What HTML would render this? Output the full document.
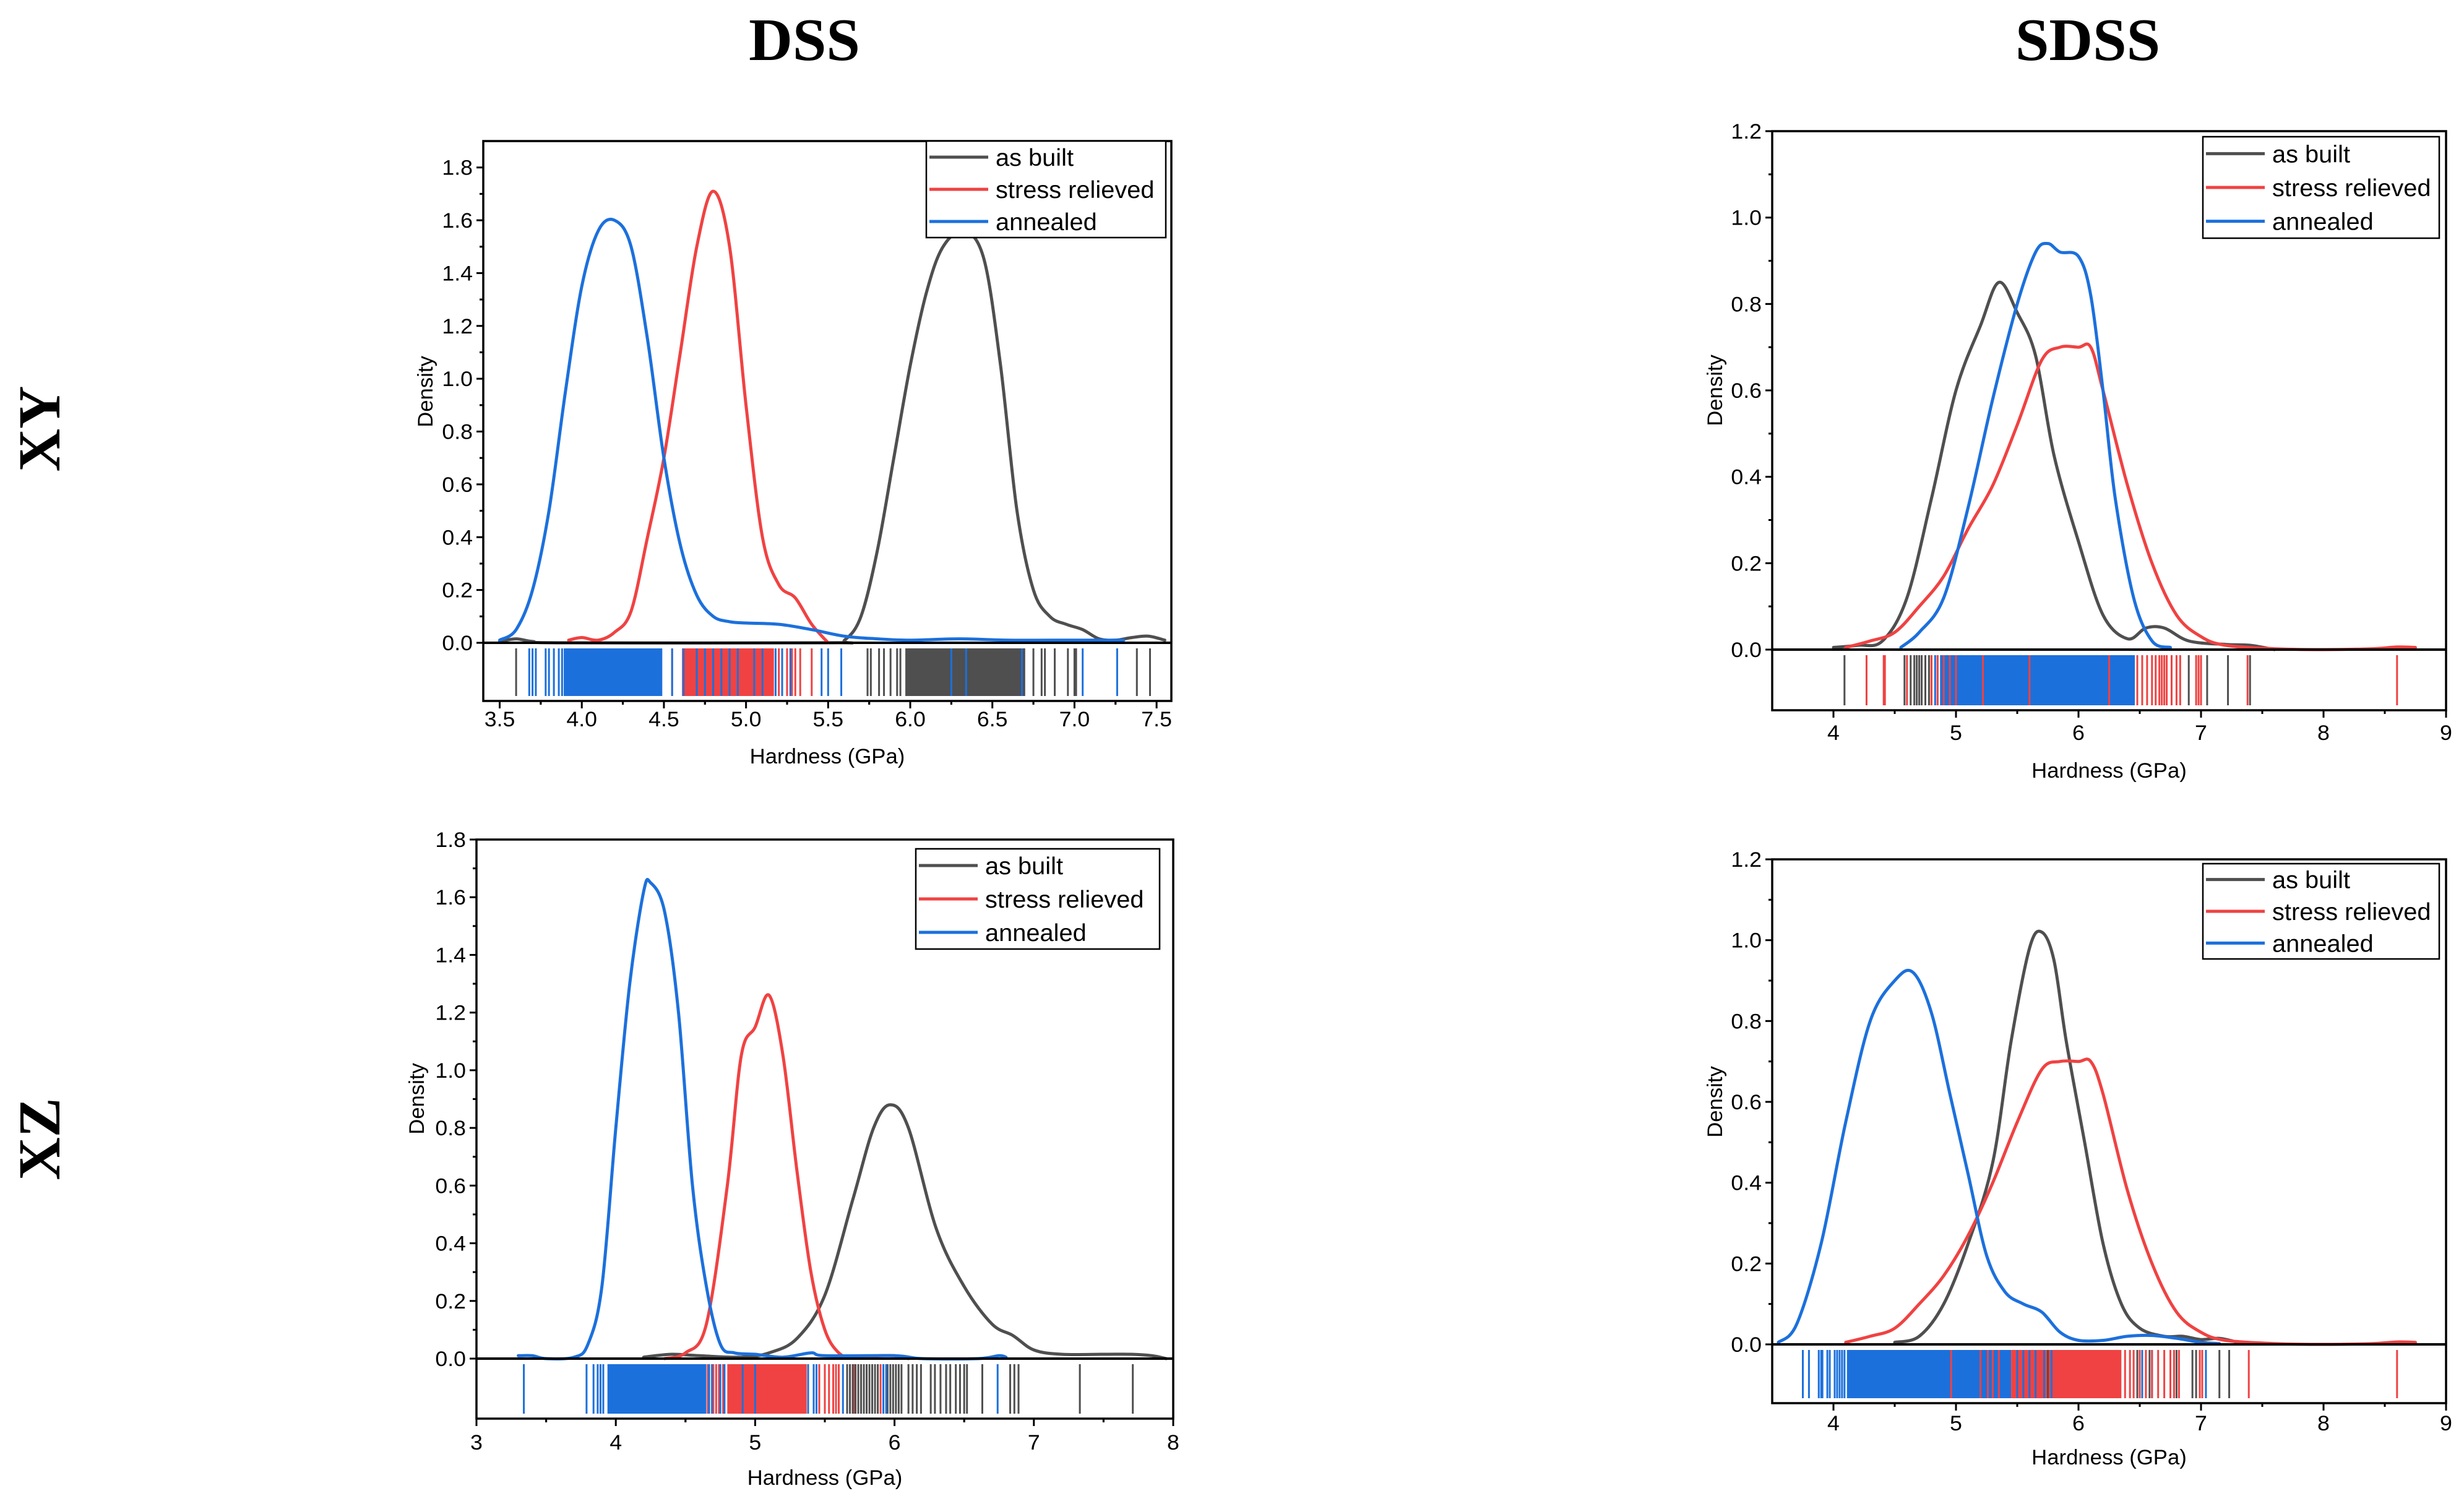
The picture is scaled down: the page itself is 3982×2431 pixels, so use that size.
<!DOCTYPE html>
<html><head><meta charset="utf-8">
<style>
html,body{margin:0;padding:0;background:#fff;}
svg{display:block;}
</style></head>
<body>
<svg id="fig" xmlns="http://www.w3.org/2000/svg" width="3982" height="2431" viewBox="0 0 3982 2431">
<rect x="0" y="0" width="3982" height="2431" fill="#fff"/>
<text x="1300" y="97" text-anchor="middle" font-family="Liberation Serif, serif" font-weight="bold" font-size="98">DSS</text>
<text x="3374" y="97" text-anchor="middle" font-family="Liberation Serif, serif" font-weight="bold" font-size="98">SDSS</text>
<text transform="translate(96,693) rotate(-90)" text-anchor="middle" font-family="Liberation Serif, serif" font-weight="bold" font-size="96">XY</text>
<text transform="translate(96,1841) rotate(-90)" text-anchor="middle" font-family="Liberation Serif, serif" font-weight="bold" font-size="96">XZ</text>
</svg>
<script>
// ===== Panel 1: DSS XY =====
const p1_built_x = [3.5,3.6,3.7,3.9,5.5,5.6,5.7,5.8,5.9,6.0,6.1,6.2,6.33,6.45,6.55,6.65,6.75,6.85,6.95,7.05,7.15,7.25,7.35,7.45,7.55];
const p1_built_y = [0.005,0.015,0.005,0,0,0.01,0.1,0.35,0.7,1.05,1.33,1.5,1.56,1.45,1.05,0.5,0.2,0.1,0.07,0.05,0.015,0.01,0.02,0.025,0.01];
const p1_stress_x = [3.92,4.0,4.1,4.2,4.3,4.4,4.5,4.6,4.7,4.8,4.9,5.0,5.1,5.2,5.3,5.4,5.5];
const p1_stress_y = [0.01,0.02,0.01,0.04,0.12,0.4,0.7,1.1,1.5,1.71,1.5,0.9,0.4,0.22,0.17,0.07,0.0];
const p1_ann_x = [3.5,3.6,3.7,3.8,3.9,4.0,4.1,4.2,4.3,4.4,4.5,4.6,4.7,4.8,4.9,5.0,5.2,5.4,5.6,5.8,6.0,6.3,6.6,7.0,7.3];
const p1_ann_y = [0.01,0.05,0.2,0.5,0.95,1.35,1.56,1.6,1.5,1.15,0.7,0.37,0.18,0.1,0.08,0.075,0.07,0.05,0.025,0.015,0.01,0.015,0.01,0.01,0.01];
const p1_rug_built_bands = [[5.97,6.70]];
const p1_rug_built_single = [3.60,5.74,5.76,5.81,5.84,5.88,5.92,5.94,6.75,6.80,6.82,6.88,6.96,7.00,7.01,7.38,7.46];
const p1_rug_stress_bands = [[4.61,5.17]];
const p1_rug_stress_single = [4.55,5.20,5.22,5.25,5.28,5.30,5.33,5.40];
const p1_rug_ann_bands = [[3.89,4.49]];
const p1_rug_ann_single = [3.68,3.70,3.72,3.78,3.80,3.83,3.86,3.88,4.55,4.62,4.70,4.75,4.80,4.85,4.90,4.95,5.05,5.10,5.18,5.22,5.27,5.46,5.50,5.58,6.25,6.34,6.68,7.05,7.26];
const p1_xticks = [3.5,4.0,4.5,5.0,5.5,6.0,6.5,7.0,7.5];
const p1_xlabels = ["3.5","4.0","4.5","5.0","5.5","6.0","6.5","7.0","7.5"];
const p1_yticks = [0,0.2,0.4,0.6,0.8,1.0,1.2,1.4,1.6,1.8];
const p1_ylabels = ["0.0","0.2","0.4","0.6","0.8","1.0","1.2","1.4","1.6","1.8"];

// ===== Panel 2: SDSS XY =====
const p2_built_x = [4.0,4.2,4.4,4.6,4.8,5.0,5.2,5.35,5.5,5.65,5.8,6.0,6.2,6.4,6.55,6.7,6.9,7.2,7.4,7.6];
const p2_built_y = [0.005,0.01,0.02,0.12,0.35,0.6,0.75,0.85,0.78,0.68,0.45,0.25,0.08,0.025,0.05,0.05,0.02,0.012,0.01,0.0];
const p2_stress_x = [4.1,4.3,4.5,4.7,4.9,5.1,5.3,5.5,5.7,5.85,6.0,6.1,6.2,6.4,6.6,6.8,7.0,7.2,7.6,8.0,8.4,8.6,8.75];
const p2_stress_y = [0.005,0.02,0.04,0.1,0.17,0.28,0.38,0.52,0.67,0.70,0.70,0.70,0.6,0.38,0.2,0.08,0.03,0.01,0.002,0,0.002,0.006,0.005];
const p2_ann_x = [4.55,4.7,4.9,5.1,5.3,5.5,5.65,5.75,5.85,6.0,6.1,6.2,6.3,6.45,6.6,6.75];
const p2_ann_y = [0.005,0.04,0.12,0.33,0.58,0.8,0.92,0.94,0.92,0.91,0.82,0.6,0.35,0.12,0.02,0.005];
const p2_rug_built_bands = [];
const p2_rug_built_single = [4.09,4.58,4.63,4.66,4.68,4.70,4.72,4.75,4.78,4.80,6.90,7.05,7.22,7.40];
const p2_rug_stress_bands = [];
const p2_rug_stress_single = [4.27,4.41,4.42,4.60,4.80,4.85,4.90,4.95,5.00,5.22,5.60,6.25,6.48,6.52,6.56,6.60,6.63,6.66,6.68,6.70,6.72,6.76,6.80,6.83,6.96,6.98,7.00,7.38,8.60];
const p2_rug_ann_bands = [[4.87,6.46]];
const p2_rug_ann_single = [4.83,4.85];
const p2_xticks = [4,5,6,7,8,9];
const p2_xlabels = ["4","5","6","7","8","9"];
const p2_yticks = [0,0.2,0.4,0.6,0.8,1.0,1.2];
const p2_ylabels = ["0.0","0.2","0.4","0.6","0.8","1.0","1.2"];

// ===== Panel 3: DSS XZ =====
const p3_built_x = [4.2,4.4,4.6,4.9,5.1,5.3,5.5,5.7,5.85,5.97,6.1,6.3,6.5,6.7,6.85,7.0,7.2,7.5,7.7,7.85,7.95];
const p3_built_y = [0.005,0.015,0.01,0.005,0.02,0.07,0.22,0.55,0.8,0.88,0.8,0.45,0.25,0.12,0.08,0.03,0.015,0.015,0.015,0.01,0.0];
const p3_stress_x = [4.35,4.5,4.65,4.8,4.9,5.0,5.1,5.2,5.3,5.4,5.5,5.6,5.7,5.9,6.0,6.1];
const p3_stress_y = [0.0,0.02,0.12,0.6,1.05,1.15,1.26,1.05,0.65,0.3,0.1,0.02,0.005,0.01,0.01,0.0];
const p3_ann_x = [3.3,3.4,3.5,3.7,3.8,3.9,4.0,4.1,4.2,4.25,4.35,4.45,4.55,4.65,4.75,4.85,5.0,5.2,5.4,5.5,6.0,6.2,6.6,6.75,6.8];
const p3_ann_y = [0.01,0.01,0.0,0.005,0.05,0.25,0.8,1.3,1.62,1.65,1.55,1.2,0.6,0.25,0.05,0.02,0.015,0.005,0.02,0.01,0.01,0.0,0.0,0.01,0.005];
const p3_rug_built_bands = [];
const p3_rug_built_single = [5.66,5.68,5.70,5.72,5.74,5.76,5.78,5.80,5.82,5.84,5.86,5.88,5.95,5.97,5.99,6.01,6.03,6.05,6.10,6.13,6.16,6.19,6.26,6.29,6.33,6.37,6.40,6.44,6.47,6.50,6.52,6.63,6.83,6.86,6.89,7.33,7.71];
const p3_rug_stress_bands = [[4.80,5.37]];
const p3_rug_stress_single = [4.66,4.70,4.72,4.74,4.77,5.46,5.50,5.53,5.56,5.58,5.60,5.71,5.90];
const p3_rug_ann_bands = [[3.94,4.65]];
const p3_rug_ann_single = [3.34,3.79,3.84,3.87,3.89,3.91,4.67,4.69,4.75,4.78,4.91,5.00,5.38,5.42,5.44,5.63,5.92,5.94,6.74];
const p3_xticks = [3,4,5,6,7,8];
const p3_xlabels = ["3","4","5","6","7","8"];
const p3_yticks = [0,0.2,0.4,0.6,0.8,1.0,1.2,1.4,1.6,1.8];
const p3_ylabels = ["0.0","0.2","0.4","0.6","0.8","1.0","1.2","1.4","1.6","1.8"];

// ===== Panel 4: SDSS XZ =====
const p4_built_x = [4.5,4.7,4.9,5.1,5.3,5.45,5.6,5.7,5.8,5.9,6.05,6.2,6.35,6.5,6.7,6.85,7.0,7.15,7.3];
const p4_built_y = [0.005,0.02,0.1,0.25,0.45,0.75,0.98,1.02,0.95,0.75,0.5,0.25,0.1,0.04,0.02,0.02,0.012,0.015,0.005];
const p4_stress_x = [4.1,4.3,4.5,4.7,4.9,5.1,5.3,5.5,5.7,5.85,6.0,6.1,6.2,6.4,6.6,6.8,7.0,7.2,7.6,8.0,8.4,8.6,8.75];
const p4_stress_y = [0.005,0.02,0.04,0.1,0.17,0.27,0.4,0.55,0.68,0.70,0.70,0.70,0.62,0.38,0.2,0.08,0.03,0.01,0.002,0,0.002,0.006,0.005];
const p4_ann_x = [3.55,3.7,3.9,4.1,4.3,4.5,4.65,4.8,4.95,5.1,5.25,5.4,5.55,5.7,5.85,6.0,6.2,6.4,6.6,6.8,7.0,7.15];
const p4_ann_y = [0.005,0.05,0.25,0.55,0.8,0.9,0.92,0.82,0.62,0.42,0.22,0.13,0.1,0.08,0.03,0.01,0.01,0.02,0.022,0.015,0.005,0.002];
const p4_rug_built_bands = [];
const p4_rug_built_single = [5.75,6.48,6.58,6.80,6.93,6.96,7.15,7.23];
const p4_rug_stress_bands = [[5.45,6.35]];
const p4_rug_stress_single = [4.96,5.20,5.26,5.30,5.35,6.38,6.42,6.45,6.50,6.55,6.60,6.65,6.70,6.75,6.78,6.82,6.99,7.01,7.39,8.60];
const p4_rug_ann_bands = [[4.11,5.45]];
const p4_rug_ann_single = [3.75,3.80,3.88,3.90,3.91,3.95,3.97,4.01,4.03,4.05,4.07,4.09,5.50,5.55,5.60,5.65,5.72,5.78,6.52,6.60,7.04];
const p4_xticks = [4,5,6,7,8,9];
const p4_xlabels = ["4","5","6","7","8","9"];
const p4_yticks = [0,0.2,0.4,0.6,0.8,1.0,1.2];
const p4_ylabels = ["0.0","0.2","0.4","0.6","0.8","1.0","1.2"];

const legendNames = ["as built","stress relieved","annealed"];
const C_BUILT = "#4f4f4f", C_STRESS = "#f04242", C_ANN = "#1c70dc";
const NS = "http://www.w3.org/2000/svg";
const svg = document.getElementById("fig");

function mk(tag, attrs, parent){
  const e = document.createElementNS(NS, tag);
  for (const k in attrs) e.setAttribute(k, attrs[k]);
  (parent||svg).appendChild(e);
  return e;
}
function stretchText(t, f){
  const w = t.getComputedTextLength();
  t.setAttribute("textLength", (w*f).toFixed(1));
  t.setAttribute("lengthAdjust", "spacingAndGlyphs");
}
function smoothPath(pts){
  let d = "M" + pts[0][0].toFixed(1) + "," + pts[0][1].toFixed(1);
  for (let i=0;i<pts.length-1;i++){
    const p0 = pts[i-1]||pts[i], p1 = pts[i], p2 = pts[i+1], p3 = pts[i+2]||pts[i+1];
    const c1x = p1[0]+(p2[0]-p0[0])/6, c1y = p1[1]+(p2[1]-p0[1])/6;
    const c2x = p2[0]-(p3[0]-p1[0])/6, c2y = p2[1]-(p3[1]-p1[1])/6;
    d += " C"+c1x.toFixed(1)+","+c1y.toFixed(1)+" "+c2x.toFixed(1)+","+c2y.toFixed(1)+" "+p2[0].toFixed(1)+","+p2[1].toFixed(1);
  }
  return d;
}

function panel(cfg){
  const g = mk("g", {});
  
  
  const X = v => cfg.L + (v - cfg.xmin) / (cfg.xmax - cfg.xmin) * (cfg.R - cfg.L);
  const Y = v => cfg.Y0 - (v - 0) / (cfg.ymax - 0) * (cfg.Y0 - cfg.T);
  const font = "Liberation Sans, Arial, sans-serif";

  const rg = mk("g", {}, g);
  
  
  const rt = cfg.Y0 + 9, rb = cfg.B - 8;
  function bands(arr, col){
    arr.forEach(b=>{
      const r = mk("rect", {x:X(b[0]), y:rt, width:X(b[1])-X(b[0]), height:rb-rt, fill:col}, rg);
      
      
    });
  }
  function singles(arr, col){
    arr.forEach(v=>{
      const l = mk("line", {x1:X(v), x2:X(v), y1:rt, y2:rb, stroke:col, "stroke-width":3}, rg);
      
      
    });
  }
  cfg.rugOrder.forEach(o=>{
    const col = o[0]==="b"?C_BUILT:(o[0]==="s"?C_STRESS:C_ANN);
    const d = cfg.rug[o];
    if (o.endsWith("B")) bands(d, col); else singles(d, col);
  });

  const series = [[cfg.bx,cfg.by,C_BUILT,"as-built-curve"],[cfg.sx,cfg.sy,C_STRESS,"stress-relieved-curve"],[cfg.ax,cfg.ay,C_ANN,"annealed-curve"]];
  cfg.curveOrder.forEach(i=>{
    const s = series[i];
    const pts = s[0].map((x,k)=>[X(x), Y(s[1][k])]);
    const p = mk("path", {d:smoothPath(pts), fill:"none", stroke:s[2], "stroke-width":5, "stroke-linejoin":"round", "stroke-linecap":"round"}, g);
    
    
  });

  const fr = mk("rect", {x:cfg.L, y:cfg.T, width:cfg.R-cfg.L, height:cfg.B-cfg.T, fill:"none", stroke:"#000", "stroke-width":3.5}, g);
  
  
  const zl = mk("line", {x1:cfg.L, x2:cfg.R, y1:cfg.Y0, y2:cfg.Y0, stroke:"#000", "stroke-width":4}, g);
  
  

  cfg.yt.forEach((v,i)=>{
    const y = Y(v);
    const t = mk("line", {x1:cfg.L-11, x2:cfg.L, y1:y, y2:y, stroke:"#000", "stroke-width":3}, g);
    
    
    const lb = mk("text", {x:cfg.L-17, y:y+12, "text-anchor":"end", "font-family":font, "font-size":34}, g);
    lb.textContent = cfg.yl[i];
    
    
    stretchText(lb, 1.05);
    const vm = v + cfg.ystep/2;
    if (vm < cfg.ymax){
      const m = mk("line", {x1:cfg.L-6, x2:cfg.L, y1:Y(vm), y2:Y(vm), stroke:"#000", "stroke-width":3}, g);
      
      
    }
  });
  cfg.xt.forEach((v,i)=>{
    const x = X(v);
    const t = mk("line", {x1:x, x2:x, y1:cfg.B, y2:cfg.B+12, stroke:"#000", "stroke-width":3}, g);
    
    
    const lb = mk("text", {x:x, y:cfg.labY+12, "text-anchor":"middle", "font-family":font, "font-size":34}, g);
    lb.textContent = cfg.xl[i];
    
    
    stretchText(lb, 1.05);
    [v - cfg.xstep/2, v + cfg.xstep/2].forEach(vm=>{
      if (vm > cfg.xmin && vm < cfg.xmax){
        const m = mk("line", {x1:X(vm), x2:X(vm), y1:cfg.B, y2:cfg.B+6, stroke:"#000", "stroke-width":3}, g);
        
        
      }
    });
  });
  const xt = mk("text", {x:(cfg.L+cfg.R)/2, y:cfg.titY+12, "text-anchor":"middle", "font-family":font, "font-size":34}, g);
  xt.textContent = "Hardness (GPa)";
  
  
  stretchText(xt, 1.02);
  const yt = mk("text", {transform:"translate("+(cfg.dx+12)+","+cfg.dy+") rotate(-90)", "text-anchor":"middle", "font-family":font, "font-size":34}, g);
  yt.textContent = "Density";
  
  
  stretchText(yt, 1.02);

  const lg = mk("g", {}, g);
  
  
  const lb = mk("rect", {x:cfg.lx, y:cfg.ly, width:cfg.lw, height:cfg.lh, fill:"#fff", stroke:"#000", "stroke-width":2.5}, lg);
  
  
  const cols = [C_BUILT, C_STRESS, C_ANN];
  const rowH = cfg.lh/3;
  legendNames.forEach((n,i)=>{
    const cy = cfg.ly + rowH*(i+0.5);
    const ln = mk("line", {x1:cfg.lx+5, x2:cfg.lx+100, y1:cy, y2:cy, stroke:cols[i], "stroke-width":5}, lg);
    
    
    const tx = mk("text", {x:cfg.lx+112, y:cy+14, "font-family":font, "font-size":39}, lg);
    tx.textContent = n;
    
    
    stretchText(tx, 1.02);
  });
}

panel({name:"panel-dss-xy", L:781,R:1893,T:228,Y0:1039,B:1133, xmin:3.4,xmax:7.59, ymax:1.9,
  xt:p1_xticks, xl:p1_xlabels, xstep:0.5, yt:p1_yticks, yl:p1_ylabels, ystep:0.2,
  bx:p1_built_x,by:p1_built_y,sx:p1_stress_x,sy:p1_stress_y,ax:p1_ann_x,ay:p1_ann_y, curveOrder:[0,1,2],
  rug:{bB:p1_rug_built_bands,bS:p1_rug_built_single,sB:p1_rug_stress_bands,sS:p1_rug_stress_single,aB:p1_rug_ann_bands,aS:p1_rug_ann_single},
  rugOrder:["bB","bS","sB","sS","aB","aS"],
  labY:1162, titY:1222, dx:687, dy:633, lx:1497, ly:228, lw:387, lh:156});

panel({name:"panel-sdss-xy", L:2864,R:3953,T:212,Y0:1050,B:1148, xmin:3.5,xmax:9, ymax:1.2,
  xt:p2_xticks, xl:p2_xlabels, xstep:1, yt:p2_yticks, yl:p2_ylabels, ystep:0.2,
  bx:p2_built_x,by:p2_built_y,sx:p2_stress_x,sy:p2_stress_y,ax:p2_ann_x,ay:p2_ann_y, curveOrder:[0,1,2],
  rug:{bB:p2_rug_built_bands,bS:p2_rug_built_single,sB:p2_rug_stress_bands,sS:p2_rug_stress_single,aB:p2_rug_ann_bands,aS:p2_rug_ann_single},
  rugOrder:["bB","bS","aB","aS","sB","sS"],
  labY:1184, titY:1245, dx:2771, dy:631, lx:3560, ly:221, lw:382, lh:164});

panel({name:"panel-dss-xz", L:770,R:1896,T:1357,Y0:2196,B:2293, xmin:3,xmax:8, ymax:1.8,
  xt:p3_xticks, xl:p3_xlabels, xstep:1, yt:p3_yticks, yl:p3_ylabels, ystep:0.2,
  bx:p3_built_x,by:p3_built_y,sx:p3_stress_x,sy:p3_stress_y,ax:p3_ann_x,ay:p3_ann_y, curveOrder:[0,1,2],
  rug:{bB:p3_rug_built_bands,bS:p3_rug_built_single,sB:p3_rug_stress_bands,sS:p3_rug_stress_single,aB:p3_rug_ann_bands,aS:p3_rug_ann_single},
  rugOrder:["sB","sS","bB","bS","aB","aS"],
  labY:2331, titY:2388, dx:673, dy:1776, lx:1480, ly:1372, lw:394, lh:162});

panel({name:"panel-sdss-xz", L:2864,R:3953,T:1389,Y0:2173,B:2268, xmin:3.5,xmax:9, ymax:1.2,
  xt:p4_xticks, xl:p4_xlabels, xstep:1, yt:p4_yticks, yl:p4_ylabels, ystep:0.2,
  bx:p4_built_x,by:p4_built_y,sx:p4_stress_x,sy:p4_stress_y,ax:p4_ann_x,ay:p4_ann_y, curveOrder:[0,1,2],
  rug:{bB:p4_rug_built_bands,bS:p4_rug_built_single,sB:p4_rug_stress_bands,sS:p4_rug_stress_single,aB:p4_rug_ann_bands,aS:p4_rug_ann_single},
  rugOrder:["aB","sB","aS","sS","bB","bS"],
  labY:2300, titY:2355, dx:2771, dy:1781, lx:3560, ly:1396, lw:382, lh:154});
</script>
</body></html>
